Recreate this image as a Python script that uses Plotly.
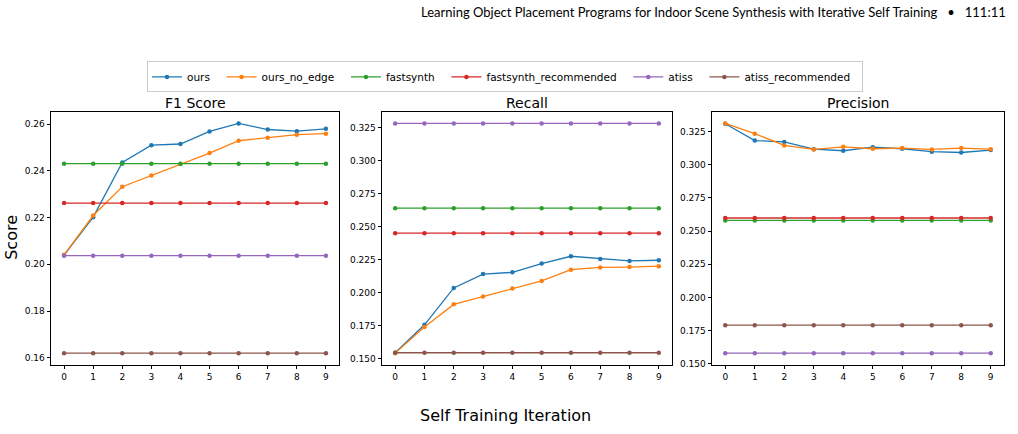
import plotly.graph_objects as go

iterations = list(range(10))
series_names = ["ours", "ours_no_edge", "fastsynth", "fastsynth_recommended", "atiss", "atiss_recommended"]
colors = ["#1f77b4", "#ff7f0e", "#2ca02c", "#d62728", "#9467bd", "#8c564b"]

f1_ours = [0.2040, 0.2202, 0.2436, 0.2510, 0.2515, 0.2569, 0.2603, 0.2577, 0.2570, 0.2580]
f1_ours_no_edge = [0.2040, 0.2209, 0.2332, 0.2380, 0.2429, 0.2476, 0.2529, 0.2542, 0.2555, 0.2559]
f1_fastsynth = [0.2431] * 10
f1_fastsynth_rec = [0.2262] * 10
f1_atiss = [0.2037] * 10
f1_atiss_rec = [0.1620] * 10

rec_ours = [0.1543, 0.1755, 0.2035, 0.2140, 0.2153, 0.2220, 0.2275, 0.2255, 0.2240, 0.2245]
rec_ours_no_edge = [0.1540, 0.1738, 0.1910, 0.1970, 0.2030, 0.2088, 0.2173, 0.2190, 0.2193, 0.2200]
rec_fastsynth = [0.2640] * 10
rec_fastsynth_rec = [0.2450] * 10
rec_atiss = [0.3283] * 10
rec_atiss_rec = [0.1543] * 10

prec_ours = [0.3310, 0.3183, 0.3173, 0.3118, 0.3106, 0.3133, 0.3121, 0.3099, 0.3093, 0.3111]
prec_ours_no_edge = [0.3312, 0.3235, 0.3146, 0.3116, 0.3136, 0.3121, 0.3126, 0.3116, 0.3126, 0.3118]
prec_fastsynth = [0.2581] * 10
prec_fastsynth_rec = [0.2599] * 10
prec_atiss = [0.1580] * 10
prec_atiss_rec = [0.1791] * 10

panel_titles = ["F1 Score", "Recall", "Precision"]
panels = [
    [f1_ours, f1_ours_no_edge, f1_fastsynth, f1_fastsynth_rec, f1_atiss, f1_atiss_rec],
    [rec_ours, rec_ours_no_edge, rec_fastsynth, rec_fastsynth_rec, rec_atiss, rec_atiss_rec],
    [prec_ours, prec_ours_no_edge, prec_fastsynth, prec_fastsynth_rec, prec_atiss, prec_atiss_rec],
]
y_ticks = [
    [0.16, 0.18, 0.20, 0.22, 0.24, 0.26],
    [0.150, 0.175, 0.200, 0.225, 0.250, 0.275, 0.300, 0.325],
    [0.150, 0.175, 0.200, 0.225, 0.250, 0.275, 0.300, 0.325],
]
y_tick_text = [
    ["0.16", "0.18", "0.20", "0.22", "0.24", "0.26"],
    ["0.150", "0.175", "0.200", "0.225", "0.250", "0.275", "0.300", "0.325"],
    ["0.150", "0.175", "0.200", "0.225", "0.250", "0.275", "0.300", "0.325"],
]

W, H = 1018, 434
x_px = [(51, 339), (382, 672), (712, 1004)]
y_top, y_bot = 113, 368
pad = "\u00a0\u00a0"

fig = go.Figure()
for p, data in enumerate(panels):
    ax = "" if p == 0 else str(p + 1)
    for s, vals in enumerate(data):
        fig.add_trace(go.Scatter(
            x=iterations, y=vals, mode="lines+markers",
            name=series_names[s] + pad, legendgroup=series_names[s],
            showlegend=(p == 0),
            line=dict(color=colors[s], width=1.3),
            marker=dict(color=colors[s], size=4.5),
            xaxis="x" + ax, yaxis="y" + ax,
        ))

font_main = "DejaVu Sans"
layout = dict(
    width=W, height=H,
    margin=dict(l=0, r=0, t=0, b=0),
    paper_bgcolor="white", plot_bgcolor="white",
    font=dict(family=font_main, color="black"),
    legend=dict(
        orientation="h", x=505 / W, xanchor="center", y=1 - 62 / H, yanchor="top",
        bordercolor="#cccccc", borderwidth=1, font=dict(size=10.5, family=font_main),
        itemwidth=30, tracegroupgap=0,
    ),
    annotations=[],
)

for p in range(3):
    ax = "" if p == 0 else str(p + 1)
    vals = [v for s in panels[p] for v in s]
    lo, hi = min(vals), max(vals)
    m = (hi - lo) * 0.05
    layout["xaxis" + ax] = dict(
        domain=[x_px[p][0] / W, x_px[p][1] / W], anchor="y" + ax,
        range=[-0.45, 9.45], tickmode="array", tickvals=iterations,
        ticks="outside", ticklen=3.5, tickwidth=0.8, tickcolor="black",
        showline=True, linecolor="black", linewidth=0.8, mirror=True,
        showgrid=False, zeroline=False, tickfont=dict(size=9),
    )
    layout["yaxis" + ax] = dict(
        domain=[1 - y_bot / H, 1 - y_top / H], anchor="x" + ax,
        range=[lo - m, hi + m], tickmode="array", tickvals=y_ticks[p], ticktext=y_tick_text[p],
        ticks="outside", ticklen=3.5, tickwidth=0.8, tickcolor="black",
        showline=True, linecolor="black", linewidth=0.8, mirror=True,
        showgrid=False, zeroline=False, tickfont=dict(size=9),
    )
    layout["annotations"].append(dict(
        text=panel_titles[p], xref="paper", yref="paper",
        x=(x_px[p][0] + x_px[p][1]) / 2 / W, y=1 - y_top / H, yshift=-1,
        xanchor="center", yanchor="bottom", showarrow=False,
        font=dict(size=14, family=font_main),
    ))

layout["annotations"].append(dict(
    text="Score", xref="paper", yref="paper", x=12 / W, y=1 - 240 / H,
    textangle=-90, xanchor="center", yanchor="middle", showarrow=False,
    font=dict(size=16, family=font_main),
))
layout["annotations"].append(dict(
    text="Self Training Iteration", xref="paper", yref="paper", x=505 / W, y=1 - 419 / H,
    xanchor="center", yanchor="middle", showarrow=False,
    font=dict(size=16, family=font_main),
))
layout["annotations"].append(dict(
    text="Learning Object Placement Programs for Indoor Scene Synthesis with Iterative Self Training   •   111:11",
    xref="paper", yref="paper", x=1008 / W, y=1 - 12 / H,
    xanchor="right", yanchor="middle", showarrow=False,
    font=dict(size=13, family="Lato"),
))

fig.update_layout(**layout)
fig.write_html("out.html")
